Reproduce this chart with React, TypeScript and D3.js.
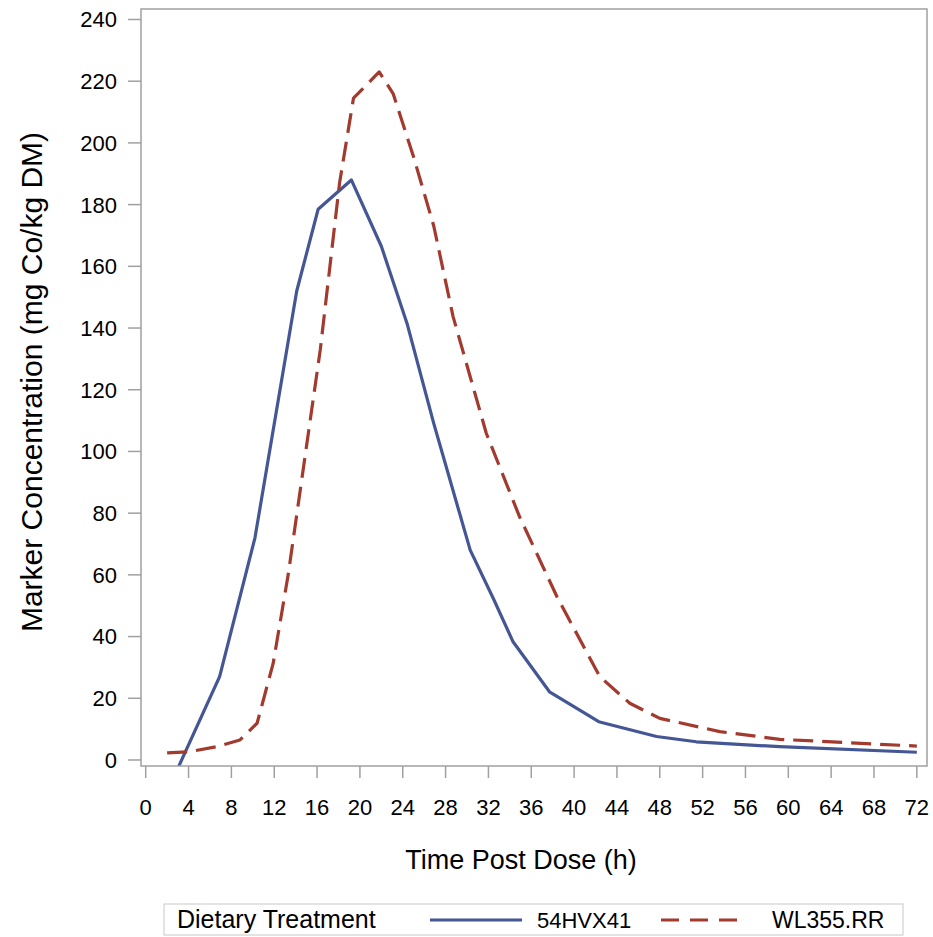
import React from 'react';
import * as d3 from 'd3';

// 54HVX41 (solid blue)
const blueX = [3, 6.9, 10.2, 14.1, 16.1, 19.2, 22, 24.4, 26.9, 30.3, 32.5, 34.3, 37.7, 42.3, 47.7, 51.4, 59.2, 72];
const blueY = [-2.7, 27, 72, 152, 178.5, 188, 166.5, 141.5, 109, 68, 52, 38.3, 22.1, 12.4, 7.6, 5.9, 4.3, 2.5];
// WL355.RR (dashed red)
const redX = [2, 4.1, 6.6, 8.8, 10.4, 11.9, 13.3, 16.3, 18.1, 19.4, 21.8, 23.1, 25, 26.9, 28.7, 31.8, 34.9, 38.4, 42.4, 45.2, 48, 53.6, 59.2, 72];
const redY = [2.3, 2.7, 4.3, 6.5, 11.9, 31.3, 60, 133, 187, 214.5, 223, 216, 195.6, 173, 143.7, 105.9, 78.9, 52.9, 27, 18.4, 13.5, 9.2, 6.7, 4.5];

const xTicks = d3.range(0, 73, 4);
const yTicks = d3.range(0, 241, 20);
const seriesNames = ['54HVX41', 'WL355.RR'];
const legendTitle = 'Dietary Treatment';
const xTitle = 'Time Post Dose (h)';
const yTitle = 'Marker Concentration (mg Co/kg DM)';

const BLUE = '#445694';
const RED = '#A23A2E';
const GRAY = '#a0a0a0';
const FONT = '"Liberation Sans", Arial, sans-serif';

export default function App() {
  const W = 933, H = 937;
  const L = 141, R = 927, T = 9, B = 766;
  const x = d3.scaleLinear().domain([-0.44, 72.95]).range([L, R]);
  const y = d3.scaleLinear().domain([-1.95, 243.4]).range([B, T]);
  const line = d3.line<[number, number]>().x(d => x(d[0])).y(d => y(d[1]));
  const blue = line(blueX.map((v, i) => [v, blueY[i]]))!;
  const red = line(redX.map((v, i) => [v, redY[i]]))!;

  return (
    <svg width={W} height={H} style={{ position: 'absolute', left: 0, top: 0, background: '#fff' }} fontFamily={FONT}>
      <defs>
        <clipPath id="plotclip">
          <rect x={L} y={T} width={R - L} height={B - T} />
        </clipPath>
      </defs>
      <rect x={0} y={0} width={W} height={H} fill="#fff" />
      {/* y ticks */}
      {yTicks.map(t => (
        <g key={'y' + t}>
          <line x1={L - 13} x2={L} y1={y(t)} y2={y(t)} stroke={GRAY} strokeWidth={1.5} />
          <text x={117} y={y(t)} dy="0.36em" textAnchor="end" fontSize={22} fill="#000">{t}</text>
        </g>
      ))}
      {/* x ticks */}
      {xTicks.map(t => (
        <g key={'x' + t}>
          <line x1={x(t)} x2={x(t)} y1={B} y2={B + 12} stroke={GRAY} strokeWidth={1.5} />
          <text x={x(t)} y={815} textAnchor="middle" fontSize={22} fill="#000">{t}</text>
        </g>
      ))}
      <g clipPath="url(#plotclip)">
        <path d={blue} fill="none" stroke={BLUE} strokeWidth={3.2} strokeLinejoin="round" />
        <path d={red} fill="none" stroke={RED} strokeWidth={3.2} strokeDasharray="20,9" strokeLinejoin="round" />
      </g>
      <rect x={L} y={T} width={R - L} height={B - T} fill="none" stroke={GRAY} strokeWidth={1.5} />
      <text x={521} y={869} textAnchor="middle" fontSize={27} fill="#000">{xTitle}</text>
      <text transform={`translate(42,382) rotate(-90)`} textAnchor="middle" fontSize={30} fill="#000">{yTitle}</text>
      {/* legend */}
      <rect x={164} y={904} width={739} height={31} fill="#fff" stroke="#c8c8c8" strokeWidth={1} />
      <text x={177} y={928} fontSize={25} fill="#000">{legendTitle}</text>
      <line x1={430} x2={522} y1={920} y2={920} stroke={BLUE} strokeWidth={3.2} />
      <text x={537} y={928} fontSize={22} fill="#000">{seriesNames[0]}</text>
      <line x1={661} x2={737} y1={920} y2={920} stroke={RED} strokeWidth={3.2} strokeDasharray="18,11" />
      <text x={772} y={928} fontSize={23} fill="#000">{seriesNames[1]}</text>
    </svg>
  );
}
